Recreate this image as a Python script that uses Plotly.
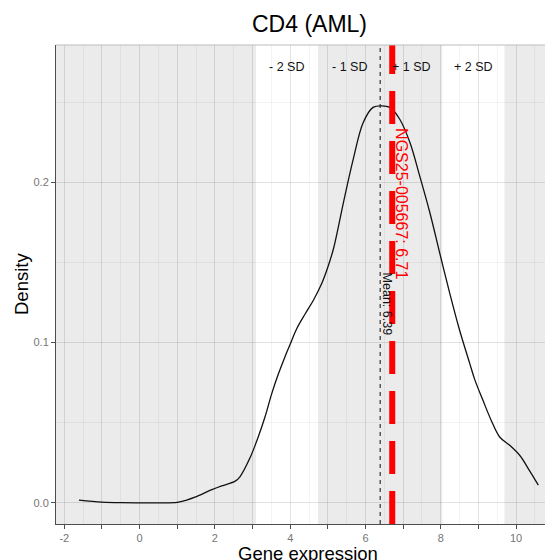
import plotly.graph_objects as go

# ---- data ----
dens_x = [-1.61, -1.00, -0.50, 0.00, 0.50, 1.00, 1.25, 1.47, 1.92, 2.18, 2.54, 2.67, 2.93,
          3.15, 3.33, 3.51, 3.69, 3.86, 4.00, 4.17, 4.40, 4.62, 4.84, 5.01, 5.16, 5.41,
          5.67, 5.94, 6.20, 6.43, 6.65, 6.91, 7.18, 7.44, 7.71, 7.97, 8.24, 8.50, 8.77,
          8.90, 9.12, 9.34, 9.57, 9.83, 10.10, 10.36, 10.59]
dens_y = [0.0018, 0.0006, 0.0002, 0.0001, 0.0001, 0.0004, 0.0018, 0.0036, 0.0083, 0.0107,
          0.0136, 0.0165, 0.0280, 0.0411, 0.0536, 0.0682, 0.0807, 0.0911, 0.0990, 0.1085,
          0.1180, 0.1266, 0.1370, 0.1478, 0.1595, 0.1869, 0.2140, 0.2373, 0.2467, 0.2477,
          0.2467, 0.2393, 0.2248, 0.2039, 0.1810, 0.1560, 0.1306, 0.1077, 0.0869, 0.0771,
          0.0640, 0.0515, 0.0410, 0.0360, 0.0296, 0.0200, 0.0111]

mean_val = 6.39
sd_val = 1.65
sample_val = 6.71
sample_name = "NGS25-005667"
title_text = "CD4 (AML)"
x_title = "Gene expression"
y_title = "Density"
sd_labels = ["- 2 SD", "- 1 SD", "+ 1 SD", "+ 2 SD"]
sd_label_pos = [-1.5, -0.5, 0.5, 1.5]
sd_label_y = 0.272
x_tickvals = list(range(-2, 11))
x_ticktext = ["-2", "", "0", "", "2", "", "4", "", "6", "", "8", "", "10"]
y_tickvals = [0.0, 0.1, 0.2]
y_ticktext = ["0.0", "0.1", "0.2"]

X_RANGE = [-2.22, 10.98]
Y_RANGE = [-0.0131, 0.2856]

FONT = "Liberation Sans, Arial, sans-serif"
GRAY_BG = "#EBEBEB"
GRID = "rgba(0,0,0,0.065)"
GRID_MINOR = "rgba(0,0,0,0.045)"

# the page adds an 8px body margin; the figure is sized/offset to compensate
W, H = 545, 552
ML, MR, MT, MB = 48, 0, 37, 36
PW = W - ML - MR
PH = H - MT - MB
OFF = 8


def px_to_paper_x(px):
    return (px - OFF - ML) / PW


def py_to_paper_y(py):
    return 1 - (py - OFF - MT) / PH


fig = go.Figure()

fig.add_trace(go.Scatter(
    x=dens_x, y=dens_y, mode="lines",
    line=dict(color="#111111", width=1.3, shape="spline", smoothing=1.0),
    hoverinfo="skip", showlegend=False))

shapes = []
for x0, x1 in [(X_RANGE[0] - 1, mean_val - 2 * sd_val),
               (mean_val - sd_val, mean_val + sd_val),
               (mean_val + 2 * sd_val, X_RANGE[1] + 1)]:
    shapes.append(dict(type="rect", xref="x", yref="paper", x0=x0, x1=x1, y0=0, y1=1,
                       fillcolor=GRAY_BG, line=dict(width=0), layer="below"))
shapes.append(dict(type="line", xref="x", yref="paper", x0=mean_val, x1=mean_val, y0=0, y1=1,
                   line=dict(color="#222222", width=1.1, dash="4px,4px"), layer="above"))
shapes.append(dict(type="line", xref="x", yref="paper", x0=sample_val, x1=sample_val, y0=0, y1=1,
                   line=dict(color="#FF0000", width=6, dash="33px,17px"), layer="above"))
shapes.append(dict(type="line", xref="paper", yref="paper", x0=0, x1=1, y0=1, y1=1,
                   line=dict(color="#BDBDBD", width=1.2), layer="above"))

annotations = []
for lab, k in zip(sd_labels, sd_label_pos):
    annotations.append(dict(x=mean_val + k * sd_val, y=sd_label_y, xref="x", yref="y",
                            text=lab, showarrow=False,
                            font=dict(family=FONT, size=12.5, color="#111111"),
                            xanchor="center", yanchor="middle"))
annotations.append(dict(x=6.56, y=0.124, xref="x", yref="y", text=f"Mean: {mean_val:.2f}",
                        showarrow=False, textangle=90,
                        font=dict(family=FONT, size=12.5, color="#111111"),
                        xanchor="center", yanchor="middle"))
annotations.append(dict(x=6.96, y=0.1866, xref="x", yref="y",
                        text=f"{sample_name}: {sample_val:.2f}",
                        showarrow=False, textangle=90,
                        font=dict(family=FONT, size=16, color="#FF0000"),
                        xanchor="center", yanchor="middle"))
annotations.append(dict(x=px_to_paper_x(309), y=py_to_paper_y(24.5), xref="paper", yref="paper",
                        text=title_text, showarrow=False,
                        font=dict(family=FONT, size=23, color="#000000"),
                        xanchor="center", yanchor="middle"))
annotations.append(dict(x=px_to_paper_x(21), y=py_to_paper_y(284), xref="paper", yref="paper",
                        text=y_title, showarrow=False, textangle=-90,
                        font=dict(family=FONT, size=18.5, color="#000000"),
                        xanchor="center", yanchor="middle"))
annotations.append(dict(x=px_to_paper_x(308), y=py_to_paper_y(553), xref="paper", yref="paper",
                        text=x_title, showarrow=False,
                        font=dict(family=FONT, size=18.5, color="#000000"),
                        xanchor="center", yanchor="middle"))

fig.update_layout(
    width=W, height=H,
    margin=dict(l=ML, r=MR, t=MT, b=MB, pad=0),
    paper_bgcolor="white", plot_bgcolor="white",
    shapes=shapes, annotations=annotations,
    font=dict(family=FONT),
    xaxis=dict(range=X_RANGE, tickmode="array", tickvals=x_tickvals, ticktext=x_ticktext,
               showgrid=True, gridcolor=GRID, gridwidth=1, zeroline=False,
               showline=True, linecolor="#4D4D4D", linewidth=1,
               ticks="outside", ticklen=3.5, tickcolor="#4D4D4D", tickwidth=1,
               tickfont=dict(family=FONT, size=11, color="#757575"),
               minor=dict(dtick=0.5, tick0=-2, showgrid=True, gridcolor=GRID_MINOR,
                          gridwidth=0.6, ticks=""),
               fixedrange=True),
    yaxis=dict(range=Y_RANGE, tickmode="array", tickvals=y_tickvals, ticktext=y_ticktext,
               showgrid=True, gridcolor=GRID, gridwidth=1, zeroline=False,
               showline=True, linecolor="#4D4D4D", linewidth=1,
               ticks="outside", ticklen=4, tickcolor="#4D4D4D", tickwidth=1,
               tickfont=dict(family=FONT, size=11, color="#757575"),
               minor=dict(dtick=0.05, tick0=0, showgrid=True, gridcolor=GRID_MINOR,
                          gridwidth=0.6, ticks=""),
               fixedrange=True),
)

fig.write_html("out.html", config={"displayModeBar": False})
